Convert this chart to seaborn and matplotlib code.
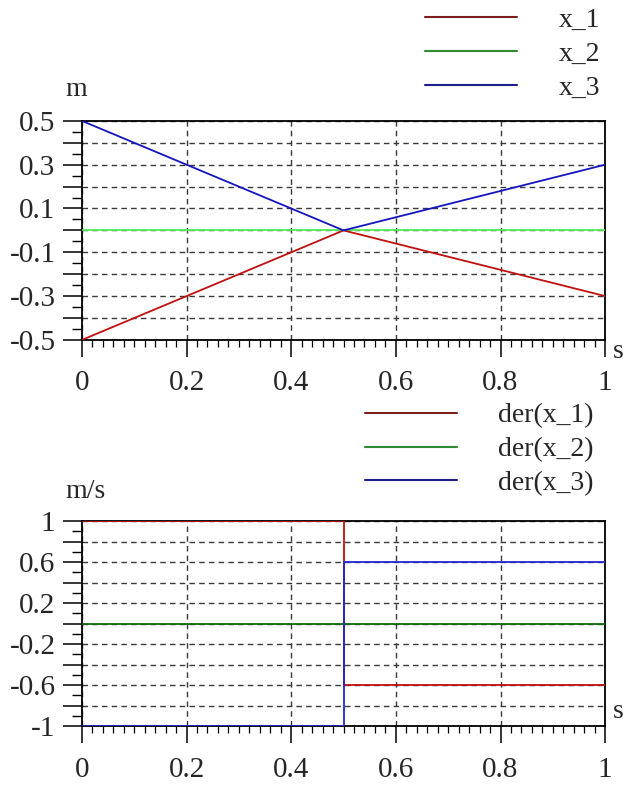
import numpy as np
import pandas as pd
import matplotlib
matplotlib.use("Agg")
import matplotlib.pyplot as plt
from matplotlib.lines import Line2D
from matplotlib.ticker import MultipleLocator, FuncFormatter
import seaborn as sns

sns.set_style("white")
plt.rcParams['font.family'] = ['Liberation Serif', 'DejaVu Serif']
plt.rcParams['axes.unicode_minus'] = False

# positions (top panel)
time = [0.0, 0.5, 1.0]
x_1 = [-0.5, 0.0, -0.3]
x_2 = [0.0, 0.0, 0.0]
x_3 = [0.5, 0.0, 0.3]

# derivatives (bottom panel), step at t=0.5
time_der = [0.0, 0.5, 0.5, 1.0]
der_x1 = [1.0, 1.0, -0.6, -0.6]
der_x2 = [0.0, 0.0, 0.0, 0.0]
der_x3 = [-1.0, -1.0, 0.6, 0.6]

top_names = ['x_1', 'x_2', 'x_3']
bot_names = ['der(x_1)', 'der(x_2)', 'der(x_3)']
legend_colors = ['#7a1e1e', '#2e8b2e', '#1e1e8a']

FS = 20      # legend / unit text
TICK_FS = 21 # tick labels

top = pd.DataFrame({'t': time * 3, 'v': x_1 + x_2 + x_3,
                    'name': [n for n in top_names for _ in time]})
bot = pd.DataFrame({'t': time_der * 3, 'v': der_x1 + der_x2 + der_x3,
                    'name': [n for n in bot_names for _ in time_der]})

fig = plt.figure(figsize=(6.35, 7.85), dpi=100)
ax1 = fig.add_axes([0.129, 0.567, 0.824, 0.279])
ax2 = fig.add_axes([0.129, 0.075, 0.824, 0.261])

# draw order: x_2 first, then x_1, x_3
sns.lineplot(data=top, x='t', y='v', hue='name', hue_order=['x_2', 'x_1', 'x_3'],
             palette={'x_1': '#c01010', 'x_2': '#55ee55', 'x_3': '#1515c0'},
             estimator=None, sort=False, linewidth=1.3, legend=False, ax=ax1, zorder=3)
sns.lineplot(data=bot, x='t', y='v', hue='name', hue_order=['der(x_2)', 'der(x_1)', 'der(x_3)'],
             palette={'der(x_1)': '#c01010', 'der(x_2)': '#106a10', 'der(x_3)': '#2525d0'},
             estimator=None, sort=False, linewidth=1.3, legend=False, ax=ax2, zorder=3)


def odd_fmt(step):
    def f(v, pos):
        k = int(round(v / step))
        if k % 2 == 0:
            return ''
        return '%g' % round(v, 3)
    return f


for ax, ymin, ymax, ystep, yminor in [(ax1, -0.5, 0.5, 0.1, 0.05), (ax2, -1, 1, 0.2, 0.1)]:
    ax.set_xlim(0, 1)
    ax.set_ylim(ymin, ymax)
    ax.set_xlabel('')
    ax.set_ylabel('')
    ax.xaxis.set_major_locator(MultipleLocator(0.2))
    ax.xaxis.set_minor_locator(MultipleLocator(0.02))
    ax.xaxis.set_major_formatter(FuncFormatter(lambda v, p: '%g' % round(v, 2)))
    ax.yaxis.set_major_locator(MultipleLocator(ystep))
    ax.yaxis.set_minor_locator(MultipleLocator(yminor))
    ax.yaxis.set_major_formatter(FuncFormatter(odd_fmt(ystep)))
    ax.tick_params(axis='both', which='both', bottom=True, left=True, top=False, right=False)
    # lengths / pads in points (1 pt = 1.39 px here)
    ax.tick_params(axis='y', which='major', direction='out', length=13.5, width=1.1,
                   labelsize=TICK_FS, color='black', pad=5.5)
    ax.tick_params(axis='y', which='minor', direction='out', length=7, width=1.0,
                   color='black')
    ax.tick_params(axis='x', which='major', direction='out', length=12, width=1.1,
                   labelsize=TICK_FS, color='black', pad=10)
    ax.tick_params(axis='x', which='minor', direction='out', length=5, width=0.9,
                   color='black')
    ax.grid(True, which='major', linestyle=(0, (4, 3)), color='#3a3a3a', linewidth=1.0)
    for sp in ax.spines.values():
        sp.set_color('black')
        sp.set_linewidth(1.3)
        sp.set_visible(True)
    ax.set_facecolor('white')

# unit labels
fig.text(65 / 635, 1 - 90 / 785, 'm', fontsize=FS, ha='left', va='center')
fig.text(613 / 635, 1 - 352 / 785, 's', fontsize=FS, ha='left', va='center')
fig.text(65 / 635, 1 - 492 / 785, 'm/s', fontsize=FS, ha='left', va='center')
fig.text(613 / 635, 1 - 712 / 785, 's', fontsize=FS, ha='left', va='center')

# legends (drawn above the panels, like the original tool)
h_top = [Line2D([], [], color=c, linewidth=1.5) for c in legend_colors]
fig.legend(h_top, top_names, loc='upper left', bbox_to_anchor=(425 / 635, 1 - 7 / 785),
           frameon=False, fontsize=FS, handlelength=3.3, handletextpad=1.5,
           labelspacing=0.32, borderpad=0, borderaxespad=0)
h_bot = [Line2D([], [], color=c, linewidth=1.5) for c in legend_colors]
fig.legend(h_bot, bot_names, loc='upper left', bbox_to_anchor=(365 / 635, 1 - 403 / 785),
           frameon=False, fontsize=FS, handlelength=3.3, handletextpad=1.5,
           labelspacing=0.30, borderpad=0, borderaxespad=0)

fig.savefig('out.png', dpi=100, facecolor='white')
